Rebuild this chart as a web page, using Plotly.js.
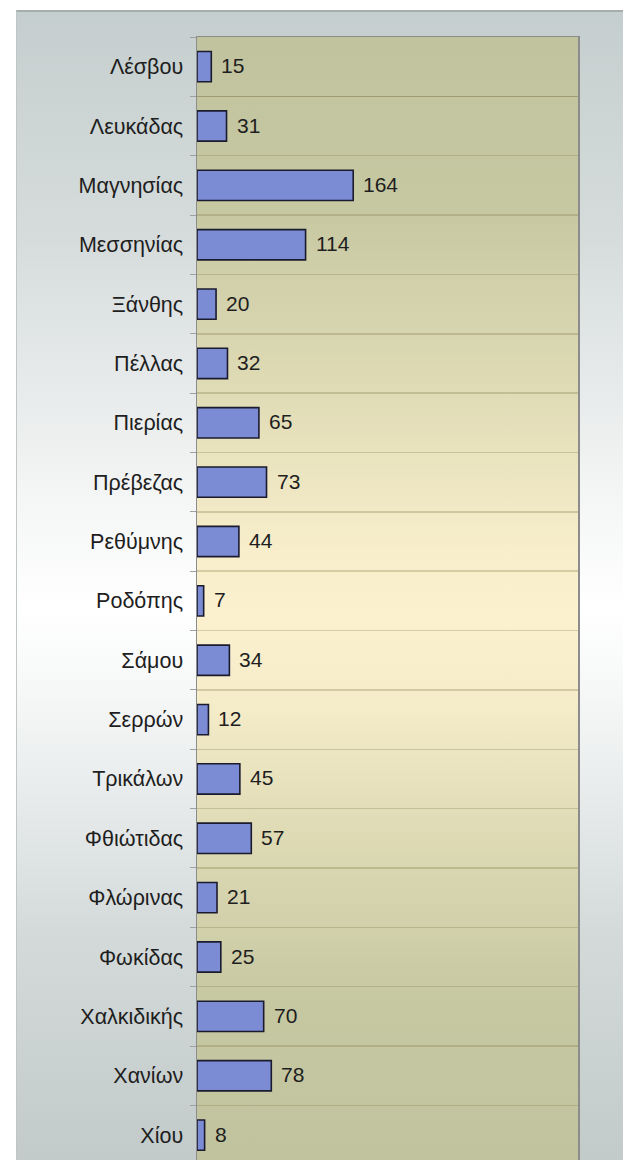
<!DOCTYPE html>
<html>
<head>
<meta charset="utf-8">
<script src="https://cdn.plot.ly/plotly-3.0.1.min.js"></script>
<style>
  html, body { margin: 0; padding: 0; background: #ffffff; overflow: hidden; }
  #wrap { position: relative; width: 623px; height: 1160px; background: #ffffff; }
  #panel { position: absolute; left: 16px; top: 10px; right: 0; bottom: 0;
    border-top: 2px solid #a6adad; border-left: 1px solid #c0c6c6;
    background: linear-gradient(to bottom, #c5cece 0%, #d6dcdc 20%, #f4f5f5 42%, #ffffff 52%, #f2f4f4 62%, #d4dada 80%, #c2cbca 100%); }
  #plotbg { position: absolute; left: 197px; top: 37px; width: 381px; height: 1123px;
    background: linear-gradient(to bottom, #c0c39d 0%, #c6c8a2 15%, #e0dcb6 32%, #f8eecb 46%, #fcf1cf 52%, #f4ebc8 60%, #dcd9b3 72%, #c6c8a2 86%, #c0c39d 100%); }
  #chart { position: absolute; left: 0; top: 0; width: 623px; height: 1160px; }
</style>
</head>
<body>
<div id="wrap">
  <div id="panel"></div>
  <div id="plotbg"></div>
  <div id="chart"></div>
</div>
<script>
const categories = ["Λέσβου", "Λευκάδας", "Μαγνησίας", "Μεσσηνίας", "Ξάνθης", "Πέλλας", "Πιερίας", "Πρέβεζας", "Ρεθύμνης", "Ροδόπης", "Σάμου", "Σερρών", "Τρικάλων", "Φθιώτιδας", "Φλώρινας", "Φωκίδας", "Χαλκιδικής", "Χανίων", "Χίου"];
const values = [15, 31, 164, 114, 20, 32, 65, 73, 44, 7, 34, 12, 45, 57, 21, 25, 70, 78, 8];

const FONT = "Liberation Sans, Arial, sans-serif";

const trace = {
  type: "bar",
  orientation: "h",
  y: categories,
  x: values,
  marker: { color: "#7b8bd4", line: { color: "#1b1b2e", width: 1.6 } },
  hoverinfo: "x+y"
};

const annotations = categories.map((c, i) => ({
  x: values[i],
  y: c,
  xref: "x",
  yref: "y",
  text: String(values[i]),
  showarrow: false,
  xanchor: "left",
  yanchor: "middle",
  xshift: 8,
  yshift: 1,
  font: { family: FONT, size: 21, color: "#1e1e1e" }
}));

const layout = {
  width: 623,
  height: 1160,
  margin: { l: 197, r: 45, t: 37, b: 0, pad: 0 },
  paper_bgcolor: "rgba(0,0,0,0)",
  plot_bgcolor: "rgba(0,0,0,0)",
  bargap: 0.49,
  showlegend: false,
  font: { family: FONT, size: 21, color: "#1e1e1e" },
  annotations: annotations,
  xaxis: {
    range: [0, 400],
    showgrid: false,
    zeroline: false,
    showticklabels: false,
    ticks: "",
    showline: true,
    mirror: true,
    linecolor: "#8c8c8c",
    linewidth: 1.5,
    fixedrange: true
  },
  yaxis: {
    type: "category",
    categoryorder: "array",
    categoryarray: categories,
    range: [18.42, -0.5],
    tickson: "boundaries",
    ticks: "outside",
    ticklen: 6,
    tickcolor: "#a0a0a0",
    tickwidth: 1,
    ticklabelstandoff: 8,
    showgrid: true,
    gridcolor: "rgba(130,120,70,0.30)",
    gridwidth: 1.5,
    showline: true,
    mirror: true,
    linecolor: "#8c8c8c",
    linewidth: 1.5,
    tickfont: { family: FONT, size: 21.5, color: "#1e1e1e" },
    fixedrange: true
  }
};

Plotly.newPlot("chart", [trace], layout, { displayModeBar: false, staticPlot: true });
</script>
</body>
</html>
